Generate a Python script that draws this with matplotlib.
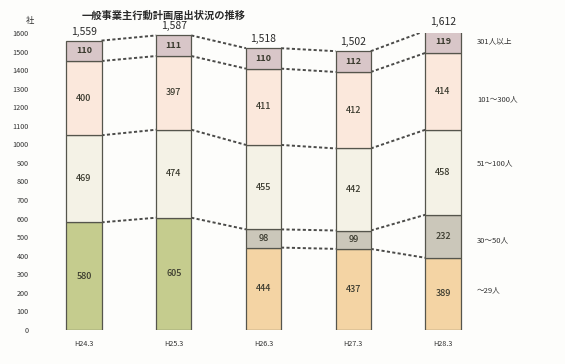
import matplotlib
matplotlib.use("Agg")
import matplotlib.pyplot as plt
import numpy as np

plt.rcParams['font.family'] = ['Noto Sans CJK JP', 'DejaVu Sans']

title = "一般事業主行動計画届出状況の推移"
periods = ["H24.3", "H25.3", "H26.3", "H27.3", "H28.3"]

# Segments from bottom to top (None = segment not reported that year)
under50 = [580, 605, None, None, None]       # combined bottom band, H24-H25
upto29 = [None, None, 444, 437, 389]
from30to50 = [None, None, 98, 99, 232]
from51to100 = [469, 474, 455, 442, 458]
from101to300 = [400, 397, 411, 412, 414]
over301 = [110, 111, 110, 112, 119]
totals = [1559, 1587, 1518, 1502, 1612]

series = [
    (under50, "#c5cc8e", None),
    (upto29, "#f4d4a4", "～29人"),
    (from30to50, "#cbc7ba", "30～50人"),
    (from51to100, "#f4f2e6", "51～100人"),
    (from101to300, "#fbe8dc", "101～300人"),
    (over301, "#d8c6c8", "301人以上"),
]
legend_y = {"301人以上": 1555, "101～300人": 1245, "51～100人": 900,
            "30～50人": 485, "～29人": 215}

W, H = 565, 364
fig = plt.figure(figsize=(W / 100, H / 100), dpi=100)
fig.patch.set_facecolor("#fdfdfb")

# axes box: x 40..470 px, y 330 (value 0) .. 33 (value 1600)
left, right, bottom, top = 40, 470, 330, 33
ax = fig.add_axes([left / W, 1 - bottom / H, (right - left) / W, (bottom - top) / H])
ax.set_facecolor("none")
unit = 89.75
x0 = -(84 - left) / unit
ax.set_xlim(x0, x0 + (right - left) / unit)
ax.set_ylim(0, 1600)
for s in ax.spines.values():
    s.set_visible(False)

x = np.arange(len(periods))
bw = 0.39
text_col = "#3a3a2e"

bottoms = np.zeros(len(periods))
bounds = [[] for _ in periods]  # segment tops per bar, for connectors
for vals, col, name in series:
    for i, v in enumerate(vals):
        if v is None:
            continue
        ax.bar(x[i], v, bw, bottom=bottoms[i], color=col, edgecolor="#55554c",
               linewidth=0.9, zorder=2)
        bold = name == "301人以上"
        ax.text(x[i], bottoms[i] + v / 2, str(v), ha="center", va="center",
                fontsize=6.5, color=text_col,
                fontweight="bold" if bold else "medium", zorder=3)
        bottoms[i] += v
        bounds[i].append(bottoms[i])

# dotted connectors between matching boundaries of neighbouring bars,
# paired from the top down
for i in range(len(periods) - 1):
    a_list, b_list = bounds[i][::-1], bounds[i + 1][::-1]
    for ya, yb in zip(a_list, b_list):
        ax.plot([x[i] + bw / 2, x[i + 1] - bw / 2], [ya, yb], ls=(0, (1.6, 1.2)),
                color="#4a4a48", lw=1.4, zorder=1)

for i, t in enumerate(totals):
    ax.text(x[i], t + 22, f"{t:,}", ha="center", va="bottom", fontsize=7.5,
            color="#2a2a2a", clip_on=False)

ax.set_yticks(np.arange(0, 1601, 100))
ax.set_yticklabels([str(v) for v in range(0, 1601, 100)], fontsize=5.2, color="#333333")
ax.tick_params(axis="y", length=0, pad=8)
ax.set_xticks(x)
ax.set_xticklabels(periods, fontsize=5.2, color="#333333")
ax.tick_params(axis="x", length=0, pad=7)

for name, yv in legend_y.items():
    ax.text(x[-1] + 0.38, yv, name, ha="left", va="center", fontsize=5.5,
            color="#333333", clip_on=False)

fig.text(30 / W, 1 - 21 / H, "社", ha="center", va="center", fontsize=6, color="#333333")
fig.text(164 / W, 1 - 16 / H, title, ha="center", va="center", fontsize=7.4,
         fontweight="bold", color="#2a2a2a")

fig.savefig("out.png", dpi=100, facecolor=fig.get_facecolor())
